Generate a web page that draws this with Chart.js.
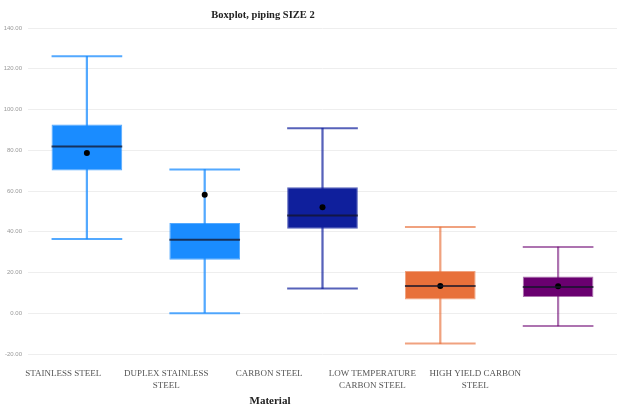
<!DOCTYPE html>
<html>
<head>
<meta charset="utf-8">
<script src="https://cdn.jsdelivr.net/npm/chart.js@4"></script>
<style>
  html, body { margin: 0; padding: 0; background: #fff; }
  #wrap { width: 621px; height: 406px; }
</style>
</head>
<body>
<div id="wrap"><canvas id="boxChart"></canvas></div>
<script>
const materials = [
  'STAINLESS STEEL',
  ['DUPLEX STAINLESS', 'STEEL'],
  'CARBON STEEL',
  ['LOW TEMPERATURE', 'CARBON STEEL'],
  ['HIGH YIELD CARBON', 'STEEL']
];
const whiskerLow  = [36.5, 0.0, 12.1, -14.9, -6.2];
const q1          = [70.1, 26.3, 41.5, 6.7, 8.0];
const medians     = [81.9, 36.1, 48.0, 13.4, 12.9];
const q3          = [92.6, 44.3, 61.9, 20.7, 18.0];
const whiskerHigh = [126.1, 70.6, 90.8, 42.3, 32.5];
const means       = [78.6, 58.2, 52.0, 13.4, 13.2];

const boxColors     = ['#1a8cff', '#1a8cff', '#0f1f9c', '#e8703a', '#6a0070'];
const whiskerColors = ['rgba(26,140,255,0.75)', 'rgba(26,140,255,0.75)', 'rgba(15,31,156,0.7)',
                       'rgba(232,112,58,0.65)', 'rgba(106,0,112,0.55)'];

// caps and median lines, sized from the box bars; plus the two titles
const boxLines = {
  id: 'boxLines',
  afterDatasetsDraw(chart) {
    const ctx = chart.ctx;
    const y = chart.scales.y;
    const boxes = chart.getDatasetMeta(1).data;
    ctx.save();
    boxes.forEach((bar, i) => {
      const half = bar.width / 2;
      ctx.lineWidth = 2;
      ctx.strokeStyle = whiskerColors[i];
      [whiskerLow[i], whiskerHigh[i]].forEach(v => {
        const py = y.getPixelForValue(v);
        ctx.beginPath();
        ctx.moveTo(bar.x - half, py);
        ctx.lineTo(bar.x + half, py);
        ctx.stroke();
      });
      const my = y.getPixelForValue(medians[i]);
      ctx.strokeStyle = 'rgba(20,20,40,0.75)';
      ctx.beginPath();
      ctx.moveTo(bar.x - half, my);
      ctx.lineTo(bar.x + half, my);
      ctx.stroke();
    });
    ctx.restore();
  },
  afterDraw(chart) {
    const ctx = chart.ctx;
    ctx.save();
    ctx.fillStyle = '#222';
    ctx.textAlign = 'center';
    ctx.textBaseline = 'middle';
    ctx.font = 'bold 10.5px "Liberation Serif"';
    ctx.fillText('Boxplot, piping SIZE 2', 263, 15);
    ctx.font = 'bold 11px "Liberation Serif"';
    ctx.fillText('Material', 270, 401);
    ctx.restore();
  }
};

new Chart(document.getElementById('boxChart'), {
  data: {
    labels: materials,
    datasets: [
      {
        type: 'bar',
        data: whiskerLow.map((v, i) => [v, whiskerHigh[i]]),
        backgroundColor: whiskerColors,
        barThickness: 1.6,
        grouped: false,
        order: 3
      },
      {
        type: 'bar',
        data: q1.map((v, i) => [v, q3[i]]),
        backgroundColor: boxColors,
        borderColor: whiskerColors,
        borderWidth: 1,
        borderSkipped: false,
        barPercentage: 0.6,
        categoryPercentage: 1,
        grouped: false,
        order: 2
      },
      {
        type: 'line',
        data: means,
        showLine: false,
        pointRadius: 3,
        pointBackgroundColor: '#000',
        pointBorderWidth: 0,
        order: 1
      }
    ]
  },
  options: {
    responsive: true,
    maintainAspectRatio: false,
    animation: false,
    layout: { padding: { left: 0, right: 0, top: 28, bottom: 0 } },
    plugins: {
      legend: { display: false },
      tooltip: { enabled: false },
      title: { display: false }
    },
    scales: {
      x: {
        weight: 0,
        grid: { display: false, drawTicks: false },
        border: { display: false },
        ticks: { display: false },
        afterFit(axis) { axis.height = 0; }
      },
      x2: {
        type: 'linear',
        position: 'bottom',
        weight: 1,
        min: -0.342,
        max: 5.376,
        afterBuildTicks(axis) {
          axis.ticks = materials.map((m, i) => ({ value: i }));
        },
        grid: { display: false, drawTicks: false },
        border: { display: false },
        ticks: {
          color: '#555',
          font: { family: 'Liberation Serif', size: 9, lineHeight: 1.3 },
          maxRotation: 0,
          autoSkip: false,
          padding: 14,
          callback: v => materials[v]
        },
        afterFit(axis) { axis.height = 52; }
      },
      y: {
        min: -20,
        max: 140,
        ticks: {
          stepSize: 20,
          color: '#999',
          font: { family: 'Liberation Sans', size: 6 },
          padding: 6,
          callback: v => v.toFixed(2)
        },
        grid: { color: '#eeeeee', drawTicks: false },
        border: { display: false },
        afterFit(axis) { axis.width = 28; }
      }
    }
  },
  plugins: [boxLines]
});
</script>
</body>
</html>
